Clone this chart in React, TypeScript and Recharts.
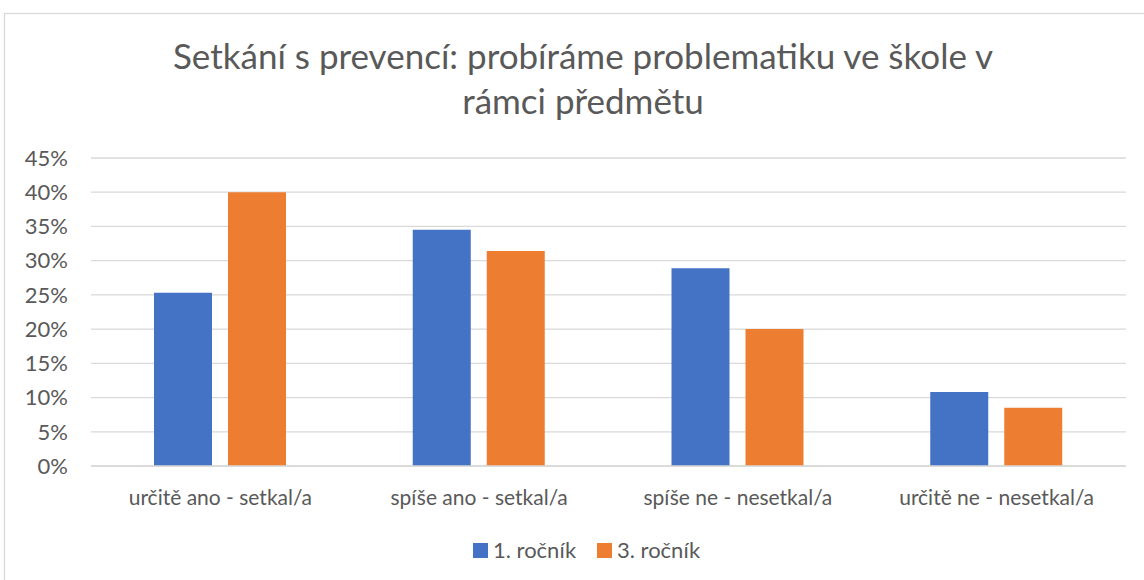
import React from "react";
import { BarChart, Bar, XAxis, YAxis, CartesianGrid } from "recharts";

const categories = [
  "určitě ano - setkal/a",
  "spíše ano - setkal/a",
  "spíše ne - nesetkal/a",
  "určitě ne - nesetkal/a",
];
const series1Name = "1. ročník";
const series2Name = "3. ročník";
const series1Values = [25.3, 34.5, 28.9, 10.8];
const series2Values = [40.0, 31.4, 20.0, 8.5];
const yTicks = [0, 5, 10, 15, 20, 25, 30, 35, 40, 45];
const titleLines = [
  "Setkání s prevencí: probíráme problematiku ve škole v",
  "rámci předmětu",
];

const BLUE = "#4472C4";
const ORANGE = "#ED7D31";
const TEXT = "#595959";
const GRID = "#D9D9D9";
const FONT = "Lato, 'Open Sans', sans-serif";

const data = categories.map((c, i) => ({
  name: c,
  s1: series1Values[i],
  s2: series2Values[i],
}));

const legendItems = [
  { name: series1Name, color: BLUE },
  { name: series2Name, color: ORANGE },
];

export default function App() {
  return (
    <div
      style={{
        position: "absolute",
        left: 0,
        top: 0,
        width: 1144,
        height: 580,
        background: "#fff",
        overflow: "hidden",
      }}
    >
      <BarChart
        width={1144}
        height={580}
        data={data}
        margin={{ top: 158, right: 18, bottom: 74, left: 31 }}
        barGap={16}
      >
        <CartesianGrid vertical={false} stroke={GRID} strokeWidth={1.3} />
        <XAxis
          dataKey="name"
          height={40}
          tickLine={false}
          axisLine={{ stroke: GRID, strokeWidth: 1.3 }}
          tickSize={0}
          tickMargin={24}
          interval={0}
          tick={{ fill: TEXT, fontSize: 21, fontFamily: FONT }}
        />
        <YAxis
          width={60}
          domain={[0, 45]}
          ticks={yTicks}
          interval={0}
          axisLine={false}
          tickLine={false}
          tickSize={0}
          tickMargin={23}
          tickFormatter={(v: number) => `${v}%`}
          tick={{ fill: TEXT, fontSize: 22, fontFamily: FONT }}
        />
        <Bar dataKey="s1" name={series1Name} fill={BLUE} barSize={58} isAnimationActive={false} />
        <Bar dataKey="s2" name={series2Name} fill={ORANGE} barSize={58} isAnimationActive={false} />
      </BarChart>
      <svg
        width={1144}
        height={580}
        style={{ position: "absolute", left: 0, top: 0, pointerEvents: "none" }}
      >
        <rect x={4.5} y={13.5} width={1160} height={600} fill="none" stroke={GRID} strokeWidth={1.3} />
        {titleLines.map((t, i) => (
          <text
            key={i}
            x={583}
            y={69 + i * 45}
            textAnchor="middle"
            fill={TEXT}
            fontSize={35}
            fontFamily={FONT}
          >
            {t}
          </text>
        ))}
        {legendItems.map((it, i) => (
          <g key={i}>
            <rect x={473 + i * 124} y={543} width={15} height={15} fill={it.color} />
            <text x={493 + i * 124} y={557.5} fill={TEXT} fontSize={22} fontFamily={FONT}>
              {it.name}
            </text>
          </g>
        ))}
      </svg>
    </div>
  );
}
